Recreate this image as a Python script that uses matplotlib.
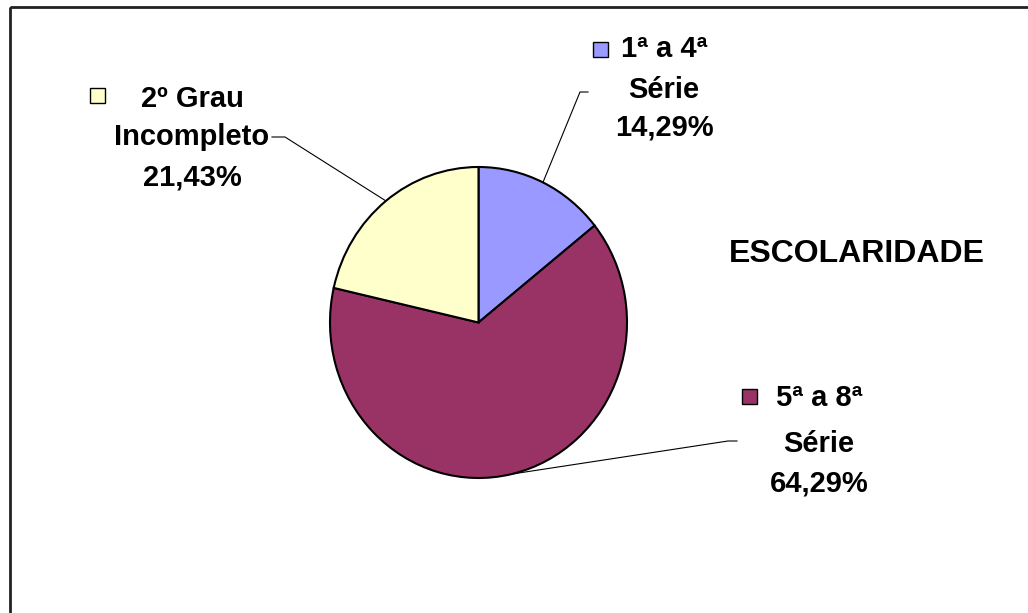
import matplotlib.pyplot as plt
from matplotlib.patches import Rectangle
import numpy as np

plt.rcParams['font.family'] = ['Liberation Sans', 'DejaVu Sans']

# data
categorias = ["1ª a 4ª Série", "5ª a 8ª Série", "2º Grau Incompleto"]
linha1 = ["1ª a 4ª", "5ª a 8ª", "2º Grau"]
linha2 = ["Série", "Série", "Incompleto"]
valores = [14.29, 64.29, 21.43]
cores = ["#9999FF", "#993366", "#FFFFCC"]
titulo = "ESCOLARIDADE"

W, H = 1028, 613
fig = plt.figure(figsize=(W / 100, H / 100), dpi=100)

# overlay em pixels (origem no topo)
ax = fig.add_axes([0, 0, 1, 1])
ax.set_xlim(0, W)
ax.set_ylim(H, 0)
ax.axis("off")

# pizza
pl, pr, pt, pb = 330, 627, 167, 478
pax = fig.add_axes([pl / W, (H - pb) / H, (pr - pl) / W, (pb - pt) / H])
wedges, _ = pax.pie(valores, colors=cores, startangle=90, counterclock=False,
                    radius=1, wedgeprops=dict(edgecolor="black", linewidth=1.5))
pax.set_aspect("auto")
pax.set_xlim(-1, 1)
pax.set_ylim(-1, 1)
pax.axis("off")

# moldura
ax.add_patch(Rectangle((10, 7), 1100, 700, fill=False, edgecolor="#222222",
                       linewidth=2, clip_on=False))

# posicoes dos rotulos
cx = [664, 819, 192]
base = [[57, 98, 136], [406, 452, 492], [107, 145, 186]]
chave = [(593, 42), (742, 389), (90, 88)]
ponta = [(588, 92), (737, 441), (272, 137)]
cotovelo = [(580, 92), (728, 441), (285, 137)]

fig.canvas.draw()
inv = ax.transData.inverted()
for i, w in enumerate(wedges):
    ang = np.deg2rad((w.theta1 + w.theta2) / 2)
    borda = inv.transform(pax.transData.transform((np.cos(ang), np.sin(ang))))
    ax.plot([ponta[i][0], cotovelo[i][0], borda[0]],
            [ponta[i][1], cotovelo[i][1], borda[1]], color="black", lw=0.8)

    pct = f"{valores[i]:.2f}".replace(".", ",") + "%"
    for txt, b in zip([linha1[i], linha2[i], pct], base[i]):
        ax.text(cx[i], b, txt, ha="center", va="baseline", fontsize=21,
                fontweight="bold")
    ax.add_patch(Rectangle(chave[i], 15, 15, facecolor=cores[i],
                           edgecolor="black", linewidth=1))

ax.text(857, 262, titulo, ha="center", va="baseline", fontsize=23,
        fontweight="bold")

fig.savefig("out.png", dpi=100)
